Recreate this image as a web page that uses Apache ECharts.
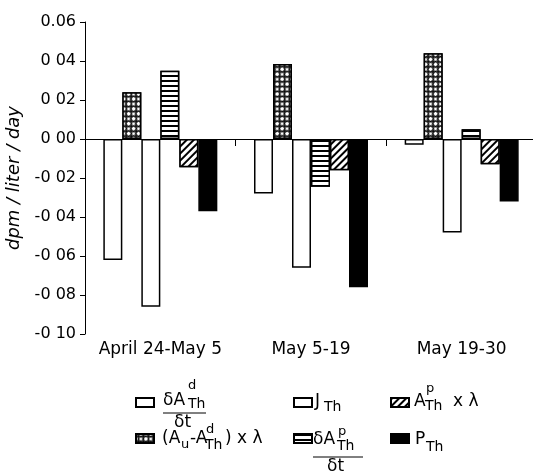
<!DOCTYPE html>
<html>
<head>
<meta charset="utf-8">
<script src="https://cdn.jsdelivr.net/npm/echarts@6/dist/echarts.min.js"></script>
<style>html,body{margin:0;padding:0;background:#fff;}#c{width:533px;height:476px;}</style>
</head>
<body>
<div id="c"></div>
<script>
const categories = ['April 24-May 5', 'May 5-19', 'May 19-30'];
const dAdDt = [-0.062, -0.028, -0.003];
const auAdLambda = [0.024, 0.0385, 0.044];
const jTh = [-0.086, -0.066, -0.048];
const dApDt = [0.035, -0.0245, 0.005];
const apLambda = [-0.0145, -0.016, -0.013];
const pTh = [-0.037, -0.076, -0.032];
const yTickLabels = ['-0 10', '-0 08', '-0 06', '-0 04', '-0 02', '0 00', '0 02', '0 04', '0.06'];
const yMin = -0.1, yMax = 0.06, yStep = 0.02;
const yName = 'dpm / liter / day';

const FONT = 'DejaVu Sans';
const border = { borderColor: '#000', borderWidth: 1.5 };

const ringPath = 'path://M0,-10A10,10 0 1,1 0,10A10,10 0 1,1 0,-10Z M0,-5.5A5.5,5.5 0 1,0 0,5.5A5.5,5.5 0 1,0 0,-5.5Z';
const decalH = { symbol: 'rect', symbolSize: 1, dashArrayX: [1, 0], dashArrayY: [1.2, 2.2], color: '#000', backgroundColor: '#fff' };
const decalD = { symbol: 'rect', symbolSize: 1, dashArrayX: [1, 0], dashArrayY: [1.3, 2.6], rotation: -Math.PI / 4, color: '#000', backgroundColor: '#fff' };
const decalX = { symbol: ringPath, symbolSize: 1, dashArrayX: [7, 0], dashArrayY: [7, 0], rotation: Math.PI / 4, color: '#000', backgroundColor: '#fff' };

function bar(name, data, style, extra) {
  return Object.assign({
    name: name, type: 'bar', data: data, barWidth: 19, barGap: '0%',
    itemStyle: Object.assign({}, border, style)
  }, extra || {});
}

const series = [
  bar('dAd', dAdDt, { color: '#fff' }, {
    markLine: { silent: true, symbol: 'none', label: { show: false },
      lineStyle: { color: '#000', width: 1, type: 'solid' }, data: [{ yAxis: 0 }] }
  }),
  bar('AuAd', auAdLambda, { color: '#fff', decal: decalX }),
  bar('J', jTh, { color: '#fff' }),
  bar('dAp', dApDt, { color: '#fff', decal: decalH }),
  bar('ApL', apLambda, { color: '#fff', decal: decalD }),
  bar('P', pTh, { color: '#000' })
];

function lg(name, left, top) {
  return { data: [name], left: left, top: top, orient: 'horizontal', padding: 0,
    itemWidth: 18, itemHeight: 9, itemGap: 0, icon: 'rect', selectedMode: false,
    formatter: function () { return ''; }, textStyle: { fontSize: 8, lineHeight: 9 } };
}

function t(text, x, y, size) {
  return { type: 'text', x: x, y: y, silent: true,
    style: { text: text, font: (size || 17) + 'px "' + FONT + '"', fill: '#000', align: 'left', verticalAlign: 'middle' } };
}
function ln(x1, x2, y) {
  return { type: 'line', silent: true, shape: { x1: x1, y1: y, x2: x2, y2: y }, style: { stroke: '#000', lineWidth: 1 } };
}

const graphics = [
  t('δA', 163, 401), t('d', 188, 386, 13), t('Th', 188, 404, 14), ln(163, 206, 413), t('δt', 174, 423),
  t('J', 315, 402), t('Th', 324, 407, 14),
  t('A', 414, 402), t('p', 426, 389, 13), t('Th', 425, 406, 14), t('x λ', 453, 402),
  t('(A', 162, 439), t('u', 181, 445, 13), t('-A', 190, 439), t('d', 206, 430, 13), t('Th', 205, 445, 14), t(') x λ', 225, 439),
  t('δA', 313, 440), t('p', 338, 432, 13), t('Th', 337, 446, 14), ln(313, 363, 457), t('δt', 327, 467),
  t('P', 415, 440), t('Th', 426, 447, 14)
];

const chart = echarts.init(document.getElementById('c'), null, { renderer: 'canvas' });
chart.setOption({
  animation: false,
  backgroundColor: '#fff',
  textStyle: { fontFamily: FONT },
  grid: { left: 85, top: 22, width: 452, height: 312, containLabel: false, outerBoundsMode: 'none' },
  xAxis: {
    type: 'category', data: categories, boundaryGap: true,
    axisLine: { lineStyle: { color: '#000', width: 1 } },
    axisTick: { show: true, length: 7, lineStyle: { color: '#000' } },
    axisLabel: { color: '#000', fontSize: 17, fontFamily: FONT, margin: 7, interval: 0, hideOverlap: false },
    splitLine: { show: false }
  },
  yAxis: {
    type: 'value', min: yMin, max: yMax, interval: yStep,
    name: yName, nameLocation: 'middle', nameRotate: 90, nameGap: 58,
    nameTextStyle: { color: '#000', fontSize: 18, fontStyle: 'italic', fontFamily: FONT },
    axisLine: { show: true, lineStyle: { color: '#000', width: 1 } },
    axisTick: { show: true, length: 5, lineStyle: { color: '#000' } },
    axisLabel: { color: '#000', fontSize: 16, fontFamily: FONT, margin: 9,
      formatter: function (v) { return yTickLabels[Math.round((v - yMin) / yStep)]; } },
    splitLine: { show: false }
  },
  legend: [
    lg('dAd', 135, 397), lg('J', 293, 397), lg('ApL', 390, 397),
    lg('AuAd', 135, 433), lg('dAp', 293, 433), lg('P', 390, 433)
  ],
  series: series,
  graphic: graphics
});
</script>
</body>
</html>
